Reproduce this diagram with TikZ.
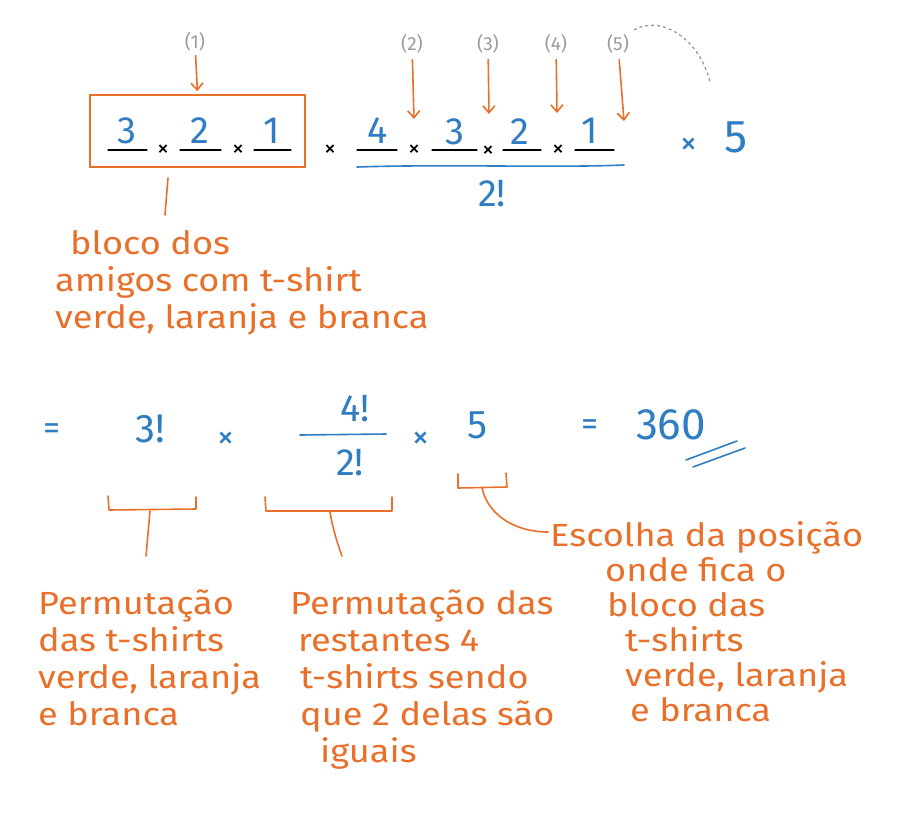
\documentclass[tikz,border=0pt]{standalone}
\usepackage{fontspec}
\setmainfont{Fira Sans}
\newfontfamily\handfont{Fira Sans}[FakeStretch=1.13]
\usetikzlibrary{arrows.meta}
\definecolor{org}{HTML}{E8702A}
\definecolor{blu}{HTML}{2F7DC2}
\definecolor{gry}{HTML}{9B9B9B}
\begin{document}
\begin{tikzpicture}[x=1pt,y=-1pt,
 hand/.style={text=org, font=\handfont\fontsize{32}{37}\selectfont, align=left, anchor=base west, inner sep=0},
 dig/.style={text=blu, font=\fontsize{38}{40}\selectfont, inner sep=0},
 tim/.style={font=\fontsize{24}{24}\selectfont, inner sep=0},
 btim/.style={text=blu, font=\fontsize{34}{34}\selectfont, inner sep=0},
 lab/.style={text=gry, font=\fontsize{19}{20}\selectfont, inner sep=0},
 oline/.style={draw=org, line width=1.6pt, line cap=round, line join=round},
 oarr/.style={oline, -{Straight Barb[length=7pt,width=12pt]}},
 blank/.style={draw=black, line width=1.1pt, line cap=round},
 bline/.style={draw=blu, line width=1.6pt, line cap=round},
]
\useasboundingbox (0,0) rectangle (900,815);
% ---------- top row ----------
\node[lab] (l1) at (195,42) {(1)};
\node[draw=org, line width=1.6pt, minimum width=215pt, minimum height=72pt, inner sep=0] (box) at (197.5,131) {};
\draw[oarr, shorten <=4pt, shorten >=3pt] (l1) -- (box.north);
% block of friends
\node[dig] (a1) at (127,131) {3};
\node[tim] (m1) at (163,151) {×};
\node[dig] (a2) at (200,131) {2};
\node[tim] (m2) at (238,151) {×};
\node[dig] (a3) at (272,131) {1};
\draw[blank] (108,150) -- (147,150);
\draw[blank] (180,150) -- (221,150);
\draw[blank] (254,150) -- (291,150);
\node[tim] (m3) at (330,151) {×};
% remaining
\node[dig] (b1) at (378,131) {4};
\node[tim] (m4) at (414,151) {×};
\node[dig] (b2) at (455,132) {3};
\node[tim] (m5) at (488,152) {×};
\node[dig] (b3) at (520,132) {2};
\node[tim] (m6) at (558,151) {×};
\node[dig] (b4) at (590,131) {1};
\draw[blank] (357,150) -- (397,150);
\draw[blank] (432,150) -- (477,150);
\draw[blank] (503,150) -- (541,150);
\draw[blank] (575,150) -- (614,150);
\draw[bline] (357,167) .. controls (450,164) and (550,168) .. (624,165);
\node[dig] (d1) at (492,194) {2!};
\node[btim] (m7) at (689,146) {×};
\node[dig, font=\fontsize{46}{46}\selectfont] (five) at (736,137) {5};
% position labels
\node[lab] (l2) at (412,44) {(2)};
\node[lab] (l3) at (488,44) {(3)};
\node[lab] (l4) at (556,44) {(4)};
\node[lab] (l5) at (618,44) {(5)};
\coordinate (p2) at (414,119);
\coordinate (p3) at (489,114);
\coordinate (p4) at (557,113);
\coordinate (p5) at (624,121);
\draw[oarr, shorten <=6pt] (l2) -- (p2);
\draw[oarr, shorten <=6pt] (l3) -- (p3);
\draw[oarr, shorten <=6pt] (l4) -- (p4);
\draw[oarr, shorten <=6pt] (l5) -- (p5);
\coordinate (g1) at (634,30);
\coordinate (g2) at (710,82);
\draw[gry, dashed, line width=1.3pt] (g1) .. controls (662,14) and (700,40) .. (g2);
% explanation of block
\coordinate (s1) at (168,178);
\coordinate (s2) at (165,215);
\draw[oline] (s1) .. controls (167,190) and (166,203) .. (s2);
\node[hand] (t1) at (55,328) {\hspace{15pt}bloco dos\\amigos com t-shirt\\verde, laranja e branca};
% ---------- second row ----------
\node[dig, font=\fontsize{34}{34}\selectfont] (eq1) at (52,432) {=};
\node[dig, font=\fontsize{40}{40}\selectfont] (f3) at (150,429) {3!};
\node[btim] (n1) at (226,440) {×};
\node[dig, font=\fontsize{38}{38}\selectfont] (f4) at (355,409) {4!};
\draw[bline] (300,435) -- (386,434);
\node[dig, font=\fontsize{38}{38}\selectfont] (f2) at (350,463) {2!};
\node[btim] (n2) at (421,440) {×};
\node[dig, font=\fontsize{40}{40}\selectfont] (f5) at (478,425) {5};
\node[dig, font=\fontsize{34}{34}\selectfont] (eq2) at (590,428) {=};
\node[dig, font=\fontsize{44}{44}\selectfont] (res) at (671,425) {360};
\draw[bline] (686,460) -- (737,441);
\draw[bline] (693,467) -- (745,448);
% brackets
\draw[oline] (108,496) -- (109,510) -- (196,509) -- (196,497);
\draw[oline] (265,497) -- (266,511) -- (392,511) -- (392,497);
\draw[oline] (458,474) -- (458,488) -- (507,487) -- (506,473);
\coordinate (k1) at (150,511);
\coordinate (k1e) at (146,556);
\coordinate (k2) at (330,512);
\coordinate (k2e) at (342,556);
\coordinate (k3) at (482,488);
\coordinate (k3e) at (548,532);
\draw[oline] (k1) -- (k1e);
\draw[oline] (k2) .. controls (333,530) and (338,545) .. (k2e);
\draw[oline] (k3) .. controls (488,515) and (515,532) .. (k3e);
% explanations
\node[hand] (t2) at (38,725) {Permutação\\das t-shirts\\verde, laranja\\e branca};
\node[hand] (t3) at (290,762) {Permutação das\\\hspace{8pt}restantes 4\\\hspace{10pt}t-shirts sendo\\\hspace{10pt}que 2 delas são\\\hspace{30pt}iguais};
\node[hand, font=\handfont\fontsize{32}{35}\selectfont] (t4) at (550,721) {Escolha da posição\\\hspace{55pt}onde fica o\\\hspace{57pt}bloco das\\\hspace{75pt}t-shirts\\\hspace{75pt}verde, laranja\\\hspace{80pt}e branca};
\end{tikzpicture}
\end{document}
